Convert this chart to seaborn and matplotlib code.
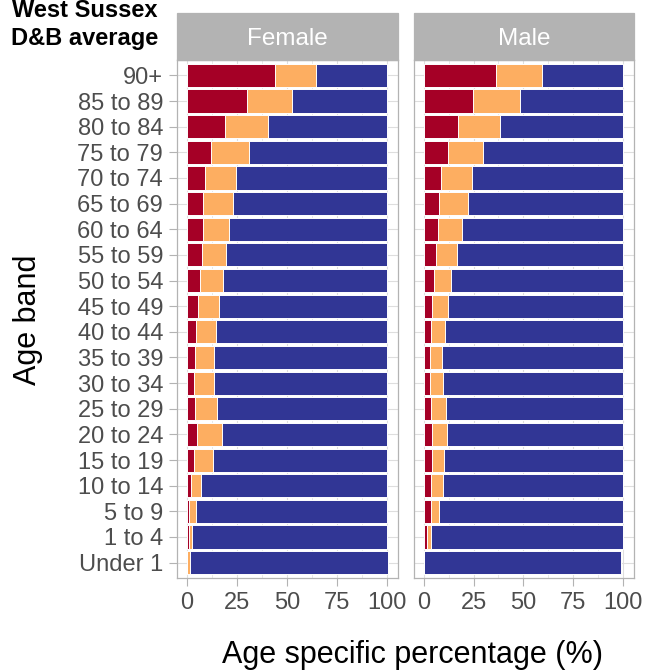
import matplotlib
matplotlib.use("Agg")
import matplotlib.pyplot as plt
from matplotlib.patches import Rectangle
import numpy as np
import pandas as pd
import seaborn as sns

# Age bands, top of chart first
ages = ["90+", "85 to 89", "80 to 84", "75 to 79", "70 to 74", "65 to 69",
        "60 to 64", "55 to 59", "50 to 54", "45 to 49", "40 to 44", "35 to 39",
        "30 to 34", "25 to 29", "20 to 24", "15 to 19", "10 to 14", "5 to 9",
        "1 to 4", "Under 1"]

# Age specific percentages per segment (same order as ages)
female_red = [44.3, 30.0, 18.8, 12.2, 9.0, 8.2, 8.2, 7.3, 6.7, 5.3,
              4.5, 4.0, 3.7, 4.0, 4.8, 3.5, 2.0, 1.2, 0.8, 0.0]
female_orange = [20.4, 22.8, 21.7, 18.6, 15.7, 14.8, 12.8, 12.2, 11.3, 10.9,
                 9.8, 9.5, 9.6, 10.8, 12.5, 9.7, 4.8, 3.1, 1.5, 1.7]
female_blue = [35.3, 47.2, 59.5, 69.2, 75.3, 77.0, 79.0, 80.5, 82.0, 83.8,
               85.7, 86.5, 86.7, 85.2, 82.7, 86.8, 93.2, 95.7, 97.7, 98.8]

male_red = [36.4, 24.9, 16.9, 11.9, 8.5, 7.5, 7.2, 5.8, 4.8, 4.2,
            3.3, 3.0, 3.2, 3.7, 4.2, 3.8, 3.7, 3.3, 1.5, 0.0]
male_orange = [23.0, 23.2, 21.5, 18.0, 15.9, 14.5, 12.0, 10.6, 8.9, 8.0,
               7.2, 6.2, 6.6, 7.3, 7.5, 6.4, 5.8, 4.4, 2.2, 0.0]
male_blue = [40.6, 51.9, 61.6, 70.1, 75.6, 78.0, 80.8, 83.6, 86.3, 87.8,
             89.5, 90.8, 90.2, 89.0, 88.3, 89.8, 90.5, 92.3, 96.3, 99.2]

sexes = ["Female", "Male"]
RED, ORANGE, BLUE = "#A50026", "#FDAE61", "#313695"
GREY70, GREY87, GREY30 = "#B3B3B3", "#DEDEDE", "#4D4D4D"

sns.set_theme(style="white")
plt.rcParams["font.family"] = ["Liberation Sans", "DejaVu Sans"]

fig = plt.figure(figsize=(6.48, 6.70), dpi=100)
W, H = 648, 670


def px_axes(x0, y0, x1, y1):
    return fig.add_axes([x0 / W, 1 - y1 / H, (x1 - x0) / W, (y1 - y0) / H])


panels = {
    "Female": (px_axes(177, 60, 398, 578), female_red, female_orange, female_blue),
    "Male": (px_axes(414, 60, 634, 578), male_red, male_orange, male_blue),
}

strip_h = 47 / 518
for i, sex in enumerate(sexes):
    ax, red, orange, blue = panels[sex]
    df = pd.DataFrame({"age": ages, "red": red, "orange": orange, "blue": blue})
    df["c_orange"] = df["red"] + df["orange"]
    df["c_blue"] = df["c_orange"] + df["blue"]

    # stacked bars drawn as overlapping cumulative totals
    for col, colr in [("c_blue", BLUE), ("c_orange", ORANGE), ("red", RED)]:
        sns.barplot(data=df, x=col, y="age", order=ages, color=colr,
                    saturation=1, width=0.9, edgecolor="white", linewidth=0.7,
                    errorbar=None, ax=ax, zorder=3)

    ax.set_xlim(-5.03, 105.7)
    ax.set_ylim(19.6, -0.6)
    ax.set_xlabel("")
    ax.set_ylabel("")
    ax.set_xticks([0, 25, 50, 75, 100])
    ax.set_xticks([12.5, 37.5, 62.5, 87.5], minor=True)
    ax.grid(True, which="major", axis="both", color=GREY87, linewidth=0.8, zorder=0)
    ax.grid(True, which="minor", axis="x", color=GREY87, linewidth=0.5, zorder=0)
    ax.set_axisbelow(True)
    for s in ax.spines.values():
        s.set_color(GREY70)
        s.set_linewidth(0.9)
    ax.tick_params(axis="both", which="major", length=6, width=0.8,
                   color=GREY70, labelcolor=GREY30, labelsize=17, pad=4,
                   bottom=True, left=(i == 0))
    ax.tick_params(axis="x", which="minor", length=0)
    if i > 0:
        ax.tick_params(axis="y", left=False, labelleft=False)

    # facet strip
    ax.add_patch(Rectangle((0, 1), 1, strip_h, transform=ax.transAxes,
                           facecolor=GREY70, edgecolor=GREY70, linewidth=0.9,
                           clip_on=False))
    ax.text(0.5, 1 + strip_h / 2, sex, transform=ax.transAxes, ha="center",
            va="center_baseline", color="white", fontsize=17.5)

fig.text(28 / W, 1 - 320 / H, "Age band", rotation=90, ha="center",
         va="center", fontsize=22, color="black")
fig.text(412 / W, 1 - 655 / H, "Age specific percentage (%)", ha="center",
         va="center", fontsize=22, color="black")

fig.text(158 / W, 1 - 17 / H, "West Sussex", ha="right", va="baseline",
         fontsize=17, fontweight="bold", color="black")
fig.text(158 / W, 1 - 45 / H, "D&B average", ha="right", va="baseline",
         fontsize=17, fontweight="bold", color="black")

fig.savefig("out.png", dpi=100)
